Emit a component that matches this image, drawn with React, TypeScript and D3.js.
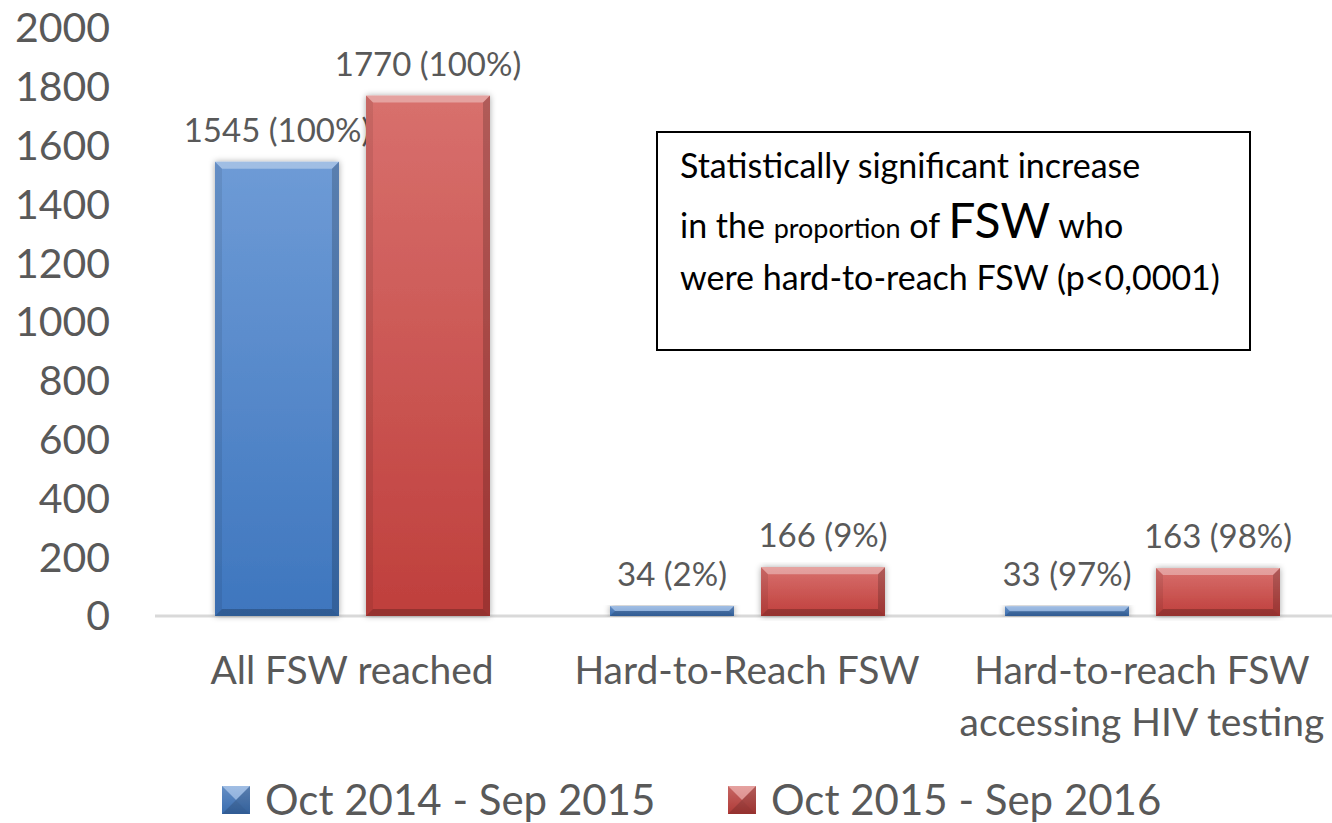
import React from 'react';
import * as d3 from 'd3';

// chart data
const categories = ['All FSW reached', 'Hard-to-Reach FSW', 'Hard-to-reach FSW\naccessing HIV testing'];
const seriesNames = ['Oct 2014 - Sep 2015', 'Oct 2015 - Sep 2016'];
const values2015 = [1545, 34, 33];
const values2016 = [1770, 166, 163];
const labels2015 = ['1545 (100%)', '34 (2%)', '33 (97%)'];
const labels2016 = ['1770 (100%)', '166 (9%)', '163 (98%)'];
const yTicks = [0, 200, 400, 600, 800, 1000, 1200, 1400, 1600, 1800, 2000];

const width = 1332;
const height = 823;
const font = 'Lato, "Open Sans", sans-serif';
const grey = '#595959';

const colors = [
  { top: '#6e9bd6', bottom: '#3e76be', id: 'gBlue' },
  { top: '#d8706d', bottom: '#bf3f3c', id: 'gRed' },
];

const Bevel = ({ x, y, w, h, b }: { x: number; y: number; w: number; h: number; b: number }) => (
  <g>
    <polygon points={`${x},${y} ${x + w},${y} ${x + w - b},${y + b} ${x + b},${y + b}`} fill="#fff" opacity={0.35} />
    <polygon points={`${x},${y + h} ${x + w},${y + h} ${x + w - b},${y + h - b} ${x + b},${y + h - b}`} fill="#000" opacity={0.22} />
    <polygon points={`${x},${y} ${x + b},${y + b} ${x + b},${y + h - b} ${x},${y + h}`} fill="#000" opacity={0.08} />
    <polygon points={`${x + w},${y} ${x + w - b},${y + b} ${x + w - b},${y + h - b} ${x + w},${y + h}`} fill="#000" opacity={0.18} />
  </g>
);

export default function App() {
  const x0 = d3.scaleBand<string>().domain(categories).range([155, 1340]).padding(0);
  const x1 = d3.scaleBand<string>().domain(seriesNames).range([60, 335]).paddingInner(0.179);
  const y = d3.scaleLinear().domain([0, 2000]).range([616, 28]);

  const series = [
    { name: seriesNames[0], values: values2015, labels: labels2015, color: colors[0] },
    { name: seriesNames[1], values: values2016, labels: labels2016, color: colors[1] },
  ];

  return (
    <svg width={width} height={height} style={{ position: 'absolute', left: 0, top: 0 }} fontFamily={font}>
      <defs>
        {colors.map((c) => (
          <linearGradient key={c.id} id={c.id} x1="0" y1="0" x2="0" y2="1">
            <stop offset="0%" stopColor={c.top} />
            <stop offset="100%" stopColor={c.bottom} />
          </linearGradient>
        ))}
        <filter id="shadow" x="-10%" y="-10%" width="120%" height="120%">
          <feDropShadow dx="0" dy="0" stdDeviation="3" floodColor="#000" floodOpacity="0.35" />
        </filter>
      </defs>
      <rect width={width} height={height} fill="#fff" />

      {/* y tick labels */}
      {yTicks.map((t) => (
        <text key={t} x={110} y={y(t)} dy="0.35em" textAnchor="end" fontSize={41} fill={grey}>
          {t}
        </text>
      ))}

      {/* baseline */}
      <line x1={155} x2={width} y1={y(0)} y2={y(0)} stroke="#d9d9d9" strokeWidth={3} />

      {/* bars */}
      {series.map((s) =>
        categories.map((c, i) => {
          const bx = (x0(c) ?? 0) + (x1(s.name) ?? 0);
          const bw = x1.bandwidth();
          const by = y(s.values[i]);
          const bh = y(0) - by;
          const b = Math.min(7, bh / 2);
          return (
            <g key={s.name + c}>
              <rect x={bx} y={by} width={bw} height={bh} fill={`url(#${s.color.id})`} filter="url(#shadow)" />
              <Bevel x={bx} y={by} w={bw} h={bh} b={b} />
              <text x={bx + bw / 2} y={by - 20} textAnchor="middle" fontSize={33} fill={grey}>
                {s.labels[i]}
              </text>
            </g>
          );
        })
      )}

      {/* category labels */}
      {categories.map((c) => {
        const cx = (x0(c) ?? 0) + 197;
        return c.split('\n').map((line, j) => (
          <text key={c + j} x={cx} y={670 + j * 52} dy="0.35em" textAnchor="middle" fontSize={39} fill={grey}>
            {line}
          </text>
        ));
      })}

      {/* legend */}
      {series.map((s, i) => {
        const lx = i === 0 ? 222 : 728;
        return (
          <g key={s.name}>
            <rect x={lx} y={786} width={28} height={28} fill={`url(#${s.color.id})`} />
            <Bevel x={lx} y={786} w={28} h={28} b={14} />
            <text x={lx + 43} y={800} dy="0.35em" fontSize={42} fill={grey}>
              {s.name}
            </text>
          </g>
        );
      })}

      {/* annotation box */}
      <rect x={657} y={132} width={593} height={218} fill="#fff" stroke="#000" strokeWidth={2} />
      <text x={680} y={178} fontSize={34} fill="#000">Statistically significant increase</text>
      <text x={680} y={238} fontSize={34} fill="#000">
        in the <tspan fontSize={27}>proportion</tspan> of <tspan fontSize={48}>FSW</tspan> who
      </text>
      <text x={680} y={290} fontSize={34} fill="#000">were hard-to-reach FSW (p&lt;0,0001)</text>
    </svg>
  );
}
